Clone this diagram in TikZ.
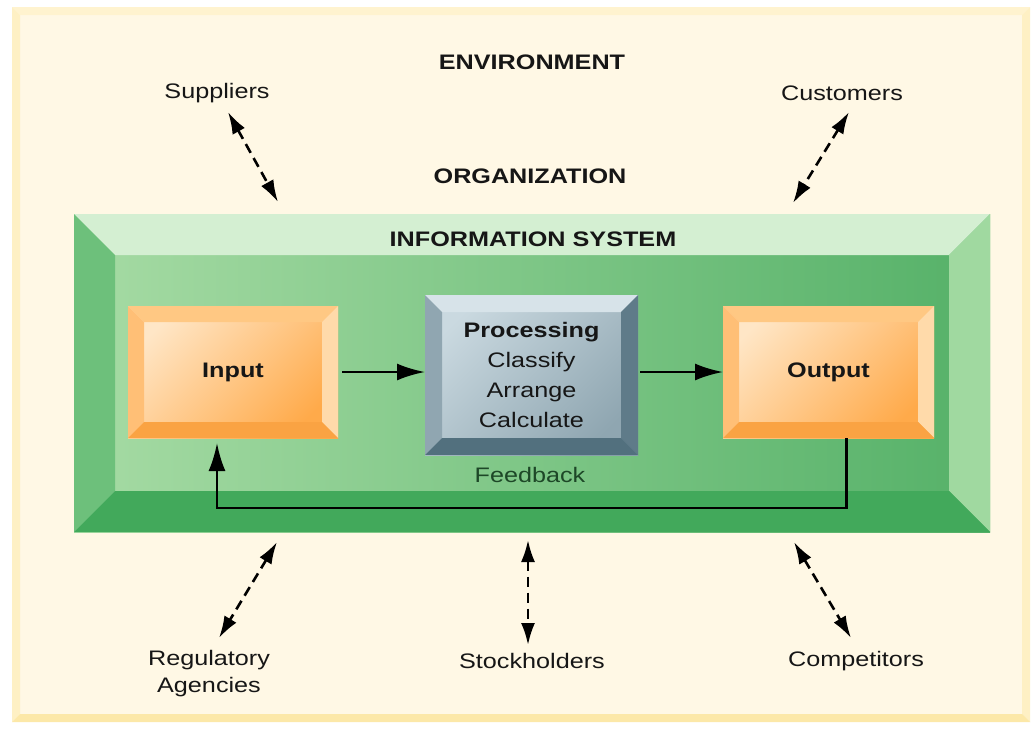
\documentclass[tikz,border=0pt]{standalone}
\usepackage{fontspec}
\setmainfont{Liberation Sans}[FakeStretch=1.2]
\usetikzlibrary{calc}
\usetikzlibrary{positioning}
\usetikzlibrary{arrows.meta}
\definecolor{txt}{HTML}{161616}
\definecolor{fbtxt}{HTML}{1D4727}
\definecolor{envface}{HTML}{FFF8E5}
\definecolor{envtop}{HTML}{FFF3CF}
\definecolor{envleft}{HTML}{FEF0C4}
\definecolor{envright}{HTML}{FEF0C4}
\definecolor{envbottom}{HTML}{FCE8A8}
\definecolor{isleft}{HTML}{A6DBA4}
\definecolor{isright}{HTML}{55B168}
\definecolor{istop}{HTML}{D4EFD2}
\definecolor{isleftband}{HTML}{6DC07B}
\definecolor{isrightband}{HTML}{A0D9A0}
\definecolor{isbottom}{HTML}{42A95B}
\definecolor{orlight}{HTML}{FFE6C6}
\definecolor{ordark}{HTML}{FFAA4A}
\definecolor{ortop}{HTML}{FFC883}
\definecolor{orleft}{HTML}{FFBF76}
\definecolor{orright}{HTML}{FFDAAA}
\definecolor{orbottom}{HTML}{FAA343}
\definecolor{prlight}{HTML}{CAD9E0}
\definecolor{prdark}{HTML}{8FA6B1}
\definecolor{prtop}{HTML}{D7E3E9}
\definecolor{prleft}{HTML}{90A6B1}
\definecolor{prright}{HTML}{5F7B89}
\definecolor{prbottom}{HTML}{52707E}
\tikzstyle{panel} = [inner sep=0, outer sep=0, align=center, text=txt, font=\fontsize{21}{30}\selectfont]
\tikzstyle{plaintext} = [inner sep=0, align=center, text=txt, font=\fontsize{21}{27}\selectfont]
\tikzstyle{headtext} = [inner sep=0, text=txt, font=\fontsize{21}{27}\selectfont\bfseries]
\tikzstyle{fbtext} = [inner sep=0, text=fbtxt, font=\fontsize{21}{27}\selectfont]
\tikzstyle{flow} = [-{Latex[length=28pt,width=17pt]}, line width=2.6pt, draw=black]
\tikzstyle{link} = [{Latex[length=22pt,width=14pt]}-{Latex[length=22pt,width=14pt]}, line width=2.6pt, dash pattern=on 10pt off 6pt]
% four bevel bands round a node: name, depth, top, left, right, bottom
\newcommand{\bevelframe}[6]{%
  \fill[#3] (#1.north west) -- (#1.north east) -- ($(#1.north east)+(-#2,#2)$) -- ($(#1.north west)+(#2,#2)$) -- cycle;
  \fill[#4] (#1.north west) -- ($(#1.north west)+(#2,#2)$) -- ($(#1.south west)+(#2,-#2)$) -- (#1.south west) -- cycle;
  \fill[#5] (#1.north east) -- ($(#1.north east)+(-#2,#2)$) -- ($(#1.south east)+(-#2,-#2)$) -- (#1.south east) -- cycle;
  \fill[#6] (#1.south west) -- ($(#1.south west)+(#2,-#2)$) -- ($(#1.south east)+(-#2,-#2)$) -- (#1.south east) -- cycle;
}

\begin{document}
\begin{tikzpicture}[x=1pt, y=-1pt]
    \useasboundingbox[fill=white] (0,0) rectangle (1036,734);

    % environment
    \node[panel, minimum width=1018, minimum height=715, fill=envface] (env) at (521,364.5) {};
    \bevelframe{env}{8}{envtop}{envleft}{envright}{envbottom}
    \node[headtext] (environment) at (532,62) {ENVIRONMENT};
    \node[plaintext] (suppliers) at (217,93) {Suppliers};
    \node[plaintext] (customers) at (842,93) {Customers};
    \node[headtext] (organization) at (530,176) {ORGANIZATION};
    \node[plaintext] (regulatory) at (209,674) {Regulatory\\Agencies};
    \node[plaintext] (stockholders) at (532,661) {Stockholders};
    \node[plaintext] (competitors) at (856,661) {Competitors};

    % information system
    \node[panel, minimum width=916, minimum height=318, left color=isleft, right color=isright] (infosys) at (532,373) {};
    \bevelframe{infosys}{41}{istop}{isleftband}{isrightband}{isbottom}
    \node[headtext] (infosys_title) at (533,239) {INFORMATION SYSTEM};

    \node[panel, minimum width=210, minimum height=132, left color=orlight, right color=ordark, shading angle=45] (input) at (233,372) {\bfseries Input};
    \bevelframe{input}{16}{ortop}{orleft}{orright}{orbottom}
    \node[panel, minimum width=211, minimum height=132, left color=orlight, right color=ordark, shading angle=45] (output) at (828.5,372) {\bfseries Output};
    \bevelframe{output}{16}{ortop}{orleft}{orright}{orbottom}
    \node[panel, minimum width=213, minimum height=160, left color=prlight, right color=prdark, shading angle=45] (processing) at (531.5,375) {\textbf{Processing}\\Classify\\Arrange\\Calculate};
    \bevelframe{processing}{17}{prtop}{prleft}{prright}{prbottom}

    \draw[flow] ([xshift=4pt]input.east) -- (input.east -| processing.west);
    \draw[flow] ($(processing.east |- output.west)+(2,0)$) -- (output.west);
    \draw[flow, shorten >=5pt] ([xshift=18pt]output.south) -- ++(0,70) -| ([xshift=-16pt]input.south);
    \node[fbtext] (feedback) at (530,475) {Feedback};

    % links to the environment
    \coordinate (sup_a) at (228,112);
    \coordinate (sup_b) at (278,202);
    \coordinate (cus_a) at (849,112);
    \coordinate (cus_b) at (793,203);
    \coordinate (reg_a) at (277,542);
    \coordinate (reg_b) at (219,638);
    \coordinate (sto_a) at (528,540);
    \coordinate (sto_b) at (528,645);
    \coordinate (com_a) at (794,542);
    \coordinate (com_b) at (851,638);
    \draw[link] (sup_a) -- (sup_b);
    \draw[link] (cus_a) -- (cus_b);
    \draw[link] (reg_a) -- (reg_b);
    \draw[link] (sto_a) -- (sto_b);
    \draw[link] (com_a) -- (com_b);
\end{tikzpicture}
\end{document}
